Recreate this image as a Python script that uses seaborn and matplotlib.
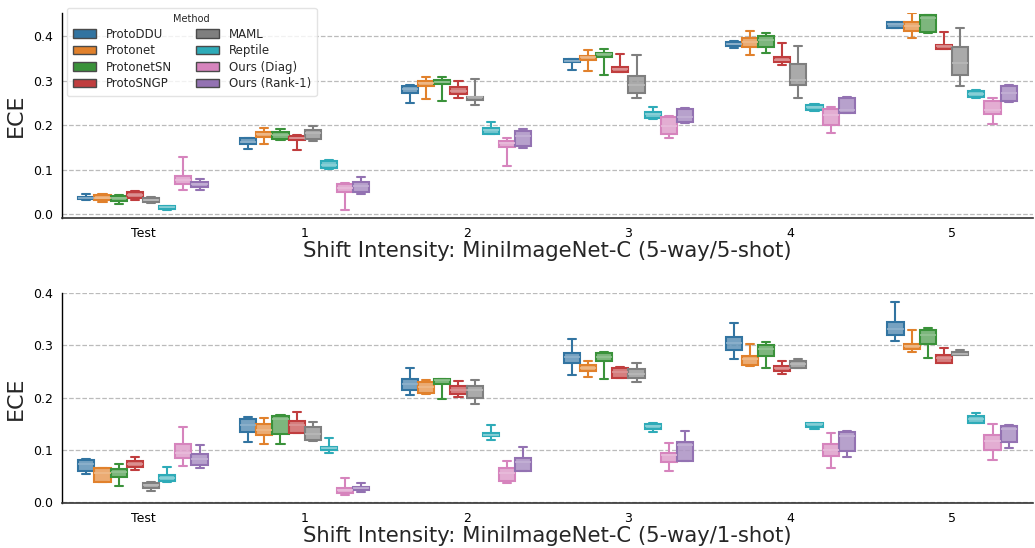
import numpy as np
import pandas as pd
import matplotlib
matplotlib.use("Agg")
import matplotlib.pyplot as plt
from matplotlib.patches import Patch, PathPatch
import seaborn as sns

shifts = ["Test", "1", "2", "3", "4", "5"]
methods = ["ProtoDDU", "Protonet", "ProtonetSN", "ProtoSNGP",
           "MAML", "Reptile", "Ours (Diag)", "Ours (Rank-1)"]
base_colors = ["#1f77b4", "#ff7f0e", "#2ca02c", "#d62728",
               "#7f7f7f", "#17becf", "#e377c2", "#9467bd"]

# five-number summaries per shift level: [min, q1, median, q3, max]
# ---- 5-way / 5-shot ----
ddu_5shot = [[0.032, 0.033, 0.036, 0.039, 0.044], [0.146, 0.157, 0.163, 0.170, 0.171],
             [0.249, 0.273, 0.281, 0.288, 0.290], [0.324, 0.341, 0.344, 0.348, 0.349],
             [0.374, 0.378, 0.383, 0.387, 0.390], [0.418, 0.419, 0.427, 0.431, 0.432]]
protonet_5shot = [[0.027, 0.032, 0.037, 0.042, 0.044], [0.157, 0.174, 0.180, 0.185, 0.193],
                  [0.258, 0.288, 0.294, 0.299, 0.307], [0.321, 0.346, 0.352, 0.356, 0.369],
                  [0.357, 0.376, 0.387, 0.395, 0.412], [0.396, 0.412, 0.422, 0.432, 0.451]]
protonetsn_5shot = [[0.023, 0.030, 0.036, 0.040, 0.042], [0.167, 0.168, 0.178, 0.184, 0.191],
                    [0.254, 0.292, 0.296, 0.301, 0.307], [0.312, 0.352, 0.359, 0.363, 0.372],
                    [0.361, 0.375, 0.392, 0.401, 0.407], [0.408, 0.409, 0.440, 0.447, 0.448]]
protosngp_5shot = [[0.031, 0.035, 0.043, 0.050, 0.052], [0.145, 0.166, 0.172, 0.176, 0.178],
                   [0.260, 0.270, 0.277, 0.285, 0.300], [0.319, 0.320, 0.326, 0.330, 0.360],
                   [0.335, 0.341, 0.347, 0.352, 0.384], [0.371, 0.372, 0.378, 0.381, 0.409]]
maml_5shot = [[0.024, 0.026, 0.031, 0.037, 0.038], [0.165, 0.168, 0.182, 0.190, 0.198],
              [0.244, 0.256, 0.262, 0.264, 0.303], [0.261, 0.273, 0.291, 0.311, 0.357],
              [0.261, 0.289, 0.302, 0.337, 0.378], [0.288, 0.313, 0.339, 0.376, 0.419]]
reptile_5shot = [[0.010, 0.011, 0.016, 0.019, 0.019], [0.101, 0.103, 0.111, 0.119, 0.121],
                 [0.180, 0.181, 0.188, 0.193, 0.206], [0.214, 0.216, 0.225, 0.230, 0.241],
                 [0.232, 0.233, 0.240, 0.246, 0.247], [0.261, 0.262, 0.270, 0.277, 0.278]]
diag_5shot = [[0.054, 0.067, 0.076, 0.085, 0.129], [0.009, 0.050, 0.058, 0.067, 0.069],
              [0.109, 0.151, 0.160, 0.164, 0.172], [0.171, 0.180, 0.199, 0.219, 0.220],
              [0.183, 0.201, 0.222, 0.235, 0.240], [0.202, 0.225, 0.234, 0.254, 0.261]]
rank1_5shot = [[0.054, 0.060, 0.067, 0.073, 0.079], [0.046, 0.050, 0.063, 0.073, 0.084],
               [0.148, 0.153, 0.175, 0.187, 0.192], [0.205, 0.206, 0.218, 0.236, 0.238],
               [0.227, 0.228, 0.234, 0.260, 0.262], [0.251, 0.255, 0.273, 0.288, 0.290]]

# ---- 5-way / 1-shot ----
ddu_1shot = [[0.053, 0.060, 0.073, 0.081, 0.082], [0.115, 0.134, 0.148, 0.160, 0.162],
             [0.205, 0.214, 0.226, 0.236, 0.257], [0.244, 0.267, 0.277, 0.286, 0.312],
             [0.274, 0.291, 0.305, 0.315, 0.342], [0.309, 0.319, 0.331, 0.344, 0.382]]
protonet_1shot = [[0.038, 0.039, 0.055, 0.065, 0.066], [0.111, 0.129, 0.139, 0.150, 0.161],
                  [0.207, 0.208, 0.221, 0.229, 0.234], [0.239, 0.251, 0.257, 0.262, 0.270],
                  [0.261, 0.263, 0.273, 0.279, 0.303], [0.287, 0.292, 0.298, 0.303, 0.329]]
protonetsn_1shot = [[0.031, 0.048, 0.058, 0.064, 0.073], [0.111, 0.131, 0.160, 0.165, 0.167],
                    [0.197, 0.226, 0.233, 0.236, 0.236], [0.235, 0.270, 0.278, 0.286, 0.288],
                    [0.256, 0.279, 0.292, 0.300, 0.306], [0.275, 0.303, 0.319, 0.329, 0.333]]
protosngp_1shot = [[0.062, 0.068, 0.074, 0.079, 0.086], [0.133, 0.133, 0.148, 0.156, 0.172],
                   [0.202, 0.207, 0.215, 0.222, 0.231], [0.237, 0.237, 0.249, 0.256, 0.258],
                   [0.245, 0.250, 0.257, 0.261, 0.270], [0.267, 0.267, 0.275, 0.281, 0.295]]
maml_1shot = [[0.022, 0.027, 0.033, 0.036, 0.039], [0.117, 0.118, 0.130, 0.143, 0.154],
              [0.188, 0.200, 0.214, 0.223, 0.234], [0.230, 0.237, 0.245, 0.254, 0.267],
              [0.256, 0.256, 0.265, 0.270, 0.274], [0.282, 0.282, 0.284, 0.287, 0.291]]
reptile_1shot = [[0.039, 0.040, 0.046, 0.052, 0.067], [0.094, 0.100, 0.103, 0.105, 0.123],
                 [0.119, 0.127, 0.129, 0.133, 0.148], [0.134, 0.140, 0.146, 0.150, 0.151],
                 [0.140, 0.144, 0.149, 0.151, 0.151], [0.151, 0.151, 0.160, 0.165, 0.170]]
diag_1shot = [[0.069, 0.085, 0.095, 0.112, 0.144], [0.014, 0.017, 0.024, 0.027, 0.047],
              [0.036, 0.041, 0.055, 0.066, 0.078], [0.059, 0.076, 0.090, 0.095, 0.113],
              [0.065, 0.089, 0.100, 0.111, 0.132], [0.081, 0.099, 0.117, 0.128, 0.150]]
rank1_1shot = [[0.066, 0.071, 0.083, 0.092, 0.109], [0.019, 0.024, 0.027, 0.030, 0.036],
               [0.060, 0.060, 0.076, 0.084, 0.106], [0.079, 0.079, 0.109, 0.116, 0.136],
               [0.086, 0.097, 0.127, 0.135, 0.136], [0.103, 0.116, 0.140, 0.145, 0.147]]

panels = [
    ("Shift Intensity: MiniImageNet-C (5-way/5-shot)",
     [ddu_5shot, protonet_5shot, protonetsn_5shot, protosngp_5shot,
      maml_5shot, reptile_5shot, diag_5shot, rank1_5shot], (-0.009, 0.452)),
    ("Shift Intensity: MiniImageNet-C (5-way/1-shot)",
     [ddu_1shot, protonet_1shot, protonetsn_1shot, protosngp_1shot,
      maml_1shot, reptile_1shot, diag_1shot, rank1_1shot], (-0.0015, 0.4)),
]


def to_frame(series):
    rows = []
    for m, summaries in zip(methods, series):
        for s, vals in zip(shifts, summaries):
            for v in vals:
                rows.append((s, m, v))
    return pd.DataFrame(rows, columns=["Shift", "Method", "ECE"])


colors = [sns.desaturate(c, 0.75) for c in base_colors]


def lighten(c, amt):
    r, g, b = matplotlib.colors.to_rgb(c)
    return (r + (1 - r) * amt, g + (1 - g) * amt, b + (1 - b) * amt)


sns.set_style("white")
plt.rcParams['font.family'] = ['DejaVu Sans']
fig = plt.figure(figsize=(10.35, 5.48), dpi=100)
W, H = 1035, 548
ax_boxes = [(62, 13, 1033, 218), (62, 293, 1033, 503)]

for k, ((xlabel, series, ylim), (l, t, r, b)) in enumerate(zip(panels, ax_boxes)):
    ax = fig.add_axes([l / W, 1 - b / H, (r - l) / W, (b - t) / H])
    df = to_frame(series)
    sns.boxplot(data=df, x="Shift", y="ECE", hue="Method", order=shifts,
                hue_order=methods, palette=colors, saturation=1, width=0.8,
                whis=(0, 100), showfliers=False, linewidth=1.5, legend=False, ax=ax)

    def hue_idx(x):
        off = x - np.round(x)
        return int(np.clip(np.round(off / 0.1 + 3.5), 0, 7))

    for p in ax.patches:
        if isinstance(p, PathPatch):
            v = p.get_path().vertices
            i = hue_idx(np.mean([v[:, 0].min(), v[:, 0].max()]))
            c = colors[i]
            p.set_facecolor(matplotlib.colors.to_rgba(lighten(c, 0.22), 0.85))
            p.set_edgecolor(c)
            p.set_linewidth(1.5)
    for ln in ax.lines:
        xd = np.asarray(ln.get_xdata(), dtype=float)
        if xd.size == 0:
            continue
        i = hue_idx(np.mean([xd.min(), xd.max()]))
        c = colors[i]
        yd = np.asarray(ln.get_ydata(), dtype=float)
        if xd.size == 2 and yd[0] == yd[1] and (xd.max() - xd.min()) > 0.07:
            ln.set_color(lighten(c, 0.45))
            ln.set_linewidth(1.2)
            ln.set_zorder(3)
        else:
            ln.set_color(c)
            ln.set_linewidth(1.5)

    ax.set_xlim(-0.5, 5.5)
    ax.set_ylim(*ylim)
    ax.set_yticks([0.0, 0.1, 0.2, 0.3, 0.4])
    ax.set_yticklabels(["0.0", "0.1", "0.2", "0.3", "0.4"])
    ax.yaxis.grid(True, linestyle="--", color="#bbbbbb", linewidth=0.9)
    ax.set_axisbelow(True)
    ax.tick_params(axis="both", labelsize=9, length=3, width=0.8, colors="black")
    ax.set_xlabel(xlabel, fontsize=15.2, labelpad=1)
    ax.set_ylabel("ECE", fontsize=16, labelpad=5)
    for s in ["top", "right"]:
        ax.spines[s].set_visible(False)
    ax.spines["left"].set_color("black")
    ax.spines["bottom"].set_color("#333333")
    ax.spines["left"].set_linewidth(1.0)
    ax.spines["bottom"].set_linewidth(1.2)

    if k == 0:
        handles = [Patch(facecolor=c, edgecolor="#4a4a4a", linewidth=1.0) for c in colors]
        leg = ax.legend(handles, methods, title="Method", ncol=2, loc="upper left",
                        bbox_to_anchor=(0.005, 1.024), borderaxespad=0,
                        fontsize=8.5, title_fontsize=7,
                        labelspacing=0.3, columnspacing=2.0, handlelength=2.0,
                        frameon=True, borderpad=0.5)
        leg.get_frame().set_edgecolor("#dddddd")

fig.savefig("out.png", dpi=100)
